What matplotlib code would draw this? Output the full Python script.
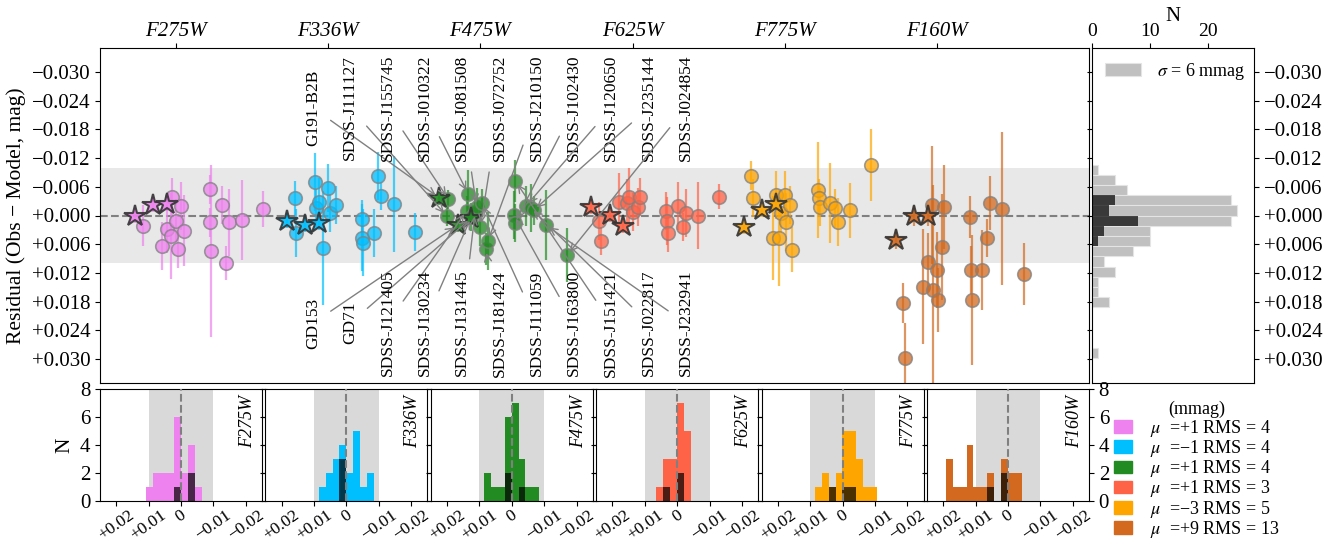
import numpy as np
import matplotlib.pyplot as plt
from matplotlib.patches import Patch
from matplotlib.ticker import FuncFormatter

plt.rcParams['font.family'] = ['Liberation Serif', 'DejaVu Serif']
plt.rcParams['mathtext.fontset'] = 'stix'

nan = np.nan

# filters, colours and summary numbers (mmag) quoted in the legend
filters = ['F275W', 'F336W', 'F475W', 'F625W', 'F775W', 'F160W']
colors = ['violet', 'deepskyblue', 'forestgreen', 'tomato', 'orange', 'chocolate']
mu = [1, -1, 1, 1, -3, 9]
rms = [4, 4, 4, 3, 5, 13]
sigma_all = 6

# objects: name, star flag (CALSPEC primaries), x offset within each filter group
names = ['G191-B2B', 'GD153', 'GD71',
         'SDSS-J111127', 'SDSS-J155745', 'SDSS-J121405', 'SDSS-J010322',
         'SDSS-J130234', 'SDSS-J131445', 'SDSS-J081508', 'SDSS-J072752',
         'SDSS-J111059', 'SDSS-J181424', 'SDSS-J210150', 'SDSS-J163800',
         'SDSS-J102430', 'SDSS-J151421', 'SDSS-J120650', 'SDSS-J022817',
         'SDSS-J235144', 'SDSS-J232941', 'SDSS-J024854']
is_star = [True, True, True] + [False] * 19
offsets = [-0.27, -0.15, -0.06, -0.22, -0.21, -0.09, -0.08, -0.06, -0.035, -0.025,
           0.0, 0.01, 0.035, 0.05, 0.22, 0.225, 0.23, 0.30, 0.33, 0.35, 0.43, 0.57]

# residuals (Obs - Model) in mmag, one entry per object
res_f275w = [0.1, -2.2, -2.4, 2.1, nan, 6.4, nan, 2.8, 4.3, -3.9, 1.1,
             7.0, -2.0, 3.2, -5.5, 1.4, 7.4, -2.2, 9.9, 1.4, 0.9, -1.4]
res_f336w = [1.1, 2.0, 1.6, -3.7, 3.7, -7.0, -1.6, -2.8, 6.8, nan, -5.7,
             -0.5, nan, -2.2, 0.7, 4.7, 5.7, 3.7, -8.3, -4.1, -2.4, 3.4]
res_f475w = [-3.7, 2.0, 0.5, 0.1, -3.4, -1.0, -4.5, 0.3, -0.7, -1.8, 2.4,
             -2.6, 7.0, 5.3, -0.1, 1.6, -7.2, -2.0, -1.6, -1.1, 2.0, 8.3]
res_f625w = [-1.8, -0.1, 2.2, 1.1, 5.3, -2.8, nan, nan, -2.6, -3.9, -0.7,
             nan, -1.8, -3.9, -0.9, 1.1, 3.7, -2.0, 2.4, -0.5, 0.1, -3.9]
res_f775w = [2.4, -1.1, -2.4, -8.3, -3.7, nan, 4.7, -4.3, 4.7, -0.5, -4.3,
             1.4, -2.2, 7.2, -5.3, -3.7, -1.8, -2.6, -1.6, 1.4, -1.1, -10.6]
res_f160w = [5.1, 0.1, 0.1, 18.3, 29.8, 14.9, nan, 9.7, -2.2, 15.6, 11.4,
             17.7, 6.6, -1.8, 0.3, 11.4, 17.7, 11.4, 4.7, -2.6, -1.4, 12.2]

# uncertainties in mmag
err_f275w = [1.5, 1.5, 1.5, 4.3, nan, 5.0, nan, 5.0, 9.0, 4.0, 4.5,
             4.0, 5.0, 7.4, 3.0, 3.0, 18.0, 4.0, 3.5, 7.0, 8.4, 3.7]
err_f336w = [1.5, 1.5, 1.5, 3.5, 5.0, 6.0, 4.0, 5.0, 12.0, nan, 5.0,
             4.0, nan, 4.0, 4.0, 7.0, 7.0, 5.0, 5.0, 3.0, 10.0, 4.0]
err_f475w = [1.5, 1.5, 1.5, 2.0, 2.0, 3.0, 5.0, 3.0, 3.0, 4.0, 4.0,
             3.0, 3.4, 6.0, 5.0, 4.0, 4.3, 4.2, 5.0, 3.0, 7.3, 5.6]
err_f625w = [1.5, 1.5, 1.5, 4.0, 3.0, 6.0, nan, nan, 5.0, 6.0, 4.0,
             nan, 4.0, 4.0, 4.0, 5.0, 4.0, 5.0, 3.0, 5.0, 7.0, 2.6]
err_f775w = [1.5, 1.5, 1.5, 3.0, 4.0, nan, 8.7, 5.0, 10.0, 4.0, 5.0,
             6.0, 4.0, 4.7, 10.0, 4.0, 4.0, 8.4, 4.0, 5.0, 5.7, 7.5]
err_f160w = [2.0, 2.0, 2.0, 4.2, 7.3, 12.0, nan, 6.0, 12.4, 22.0, 8.0,
             6.7, 11.0, 8.8, 4.4, 5.0, 13.6, 8.4, 4.0, 5.6, 16.0, 6.5]

residuals = [res_f275w, res_f336w, res_f475w, res_f625w, res_f775w, res_f160w]
errors = [err_f275w, err_f336w, err_f475w, err_f625w, err_f775w, err_f160w]

top_labels = ['G191-B2B', 'SDSS-J111127', 'SDSS-J155745', 'SDSS-J010322',
              'SDSS-J081508', 'SDSS-J072752', 'SDSS-J210150', 'SDSS-J102430',
              'SDSS-J120650', 'SDSS-J235144', 'SDSS-J024854']
bottom_labels = ['GD153', 'GD71', 'SDSS-J121405', 'SDSS-J130234',
                 'SDSS-J131445', 'SDSS-J181424', 'SDSS-J111059', 'SDSS-J163800',
                 'SDSS-J151421', 'SDSS-J022817', 'SDSS-J232941']

W, H = 1338, 546


def box(l, t, r, b):
    return [l / W, 1 - b / H, (r - l) / W, (b - t) / H]


def signed(v, nd):
    s = f'{v:+.{nd}f}'
    return s.replace('-', '\u2212')


fig = plt.figure(figsize=(W / 100, H / 100), dpi=100)
ax = fig.add_axes(box(100, 48, 1089, 383))
axs = fig.add_axes(box(1092, 48, 1254, 383))
bax = [fig.add_axes(box(100 + i * 165.4, 389, 100 + i * 165.4 + 162, 501)) for i in range(6)]

star = np.array(is_star)
off = np.array(offsets)
all_vals, star_vals = [], []
for r in residuals:
    r = np.array(r) / 1000
    all_vals += list(r[~np.isnan(r)])
    star_vals += list(r[star & ~np.isnan(r)])
edges = np.histogram_bin_edges(all_vals, bins=19)

# ---- main residual panel
ax.axhspan(-0.01, 0.01, color='lightgray', alpha=0.5, lw=0, zorder=0)
ax.axhline(0, color='gray', ls='--', lw=1.5, zorder=1)
for i, (f, c) in enumerate(zip(filters, colors)):
    y = np.array(residuals[i]) / 1000
    e = np.array(errors[i]) / 1000
    x = i + off
    m = ~np.isnan(y)
    ax.errorbar(x[m], y[m], yerr=e[m], fmt='none', ecolor=c, elinewidth=1.6,
                alpha=0.7, zorder=2)
    mc = m & ~star
    ax.scatter(x[mc], y[mc], s=95, facecolor=c, edgecolor='gray', lw=1.2,
               alpha=0.75, zorder=3)
    ms = m & star
    ax.plot(x[ms], y[ms], '*', ms=16, mfc=c, mec='#333333', mew=1.5,
            ls='none', alpha=0.9, zorder=4)

# labels with arrows to the F475W points
for labels, ylab in [(top_labels, -0.0225), (bottom_labels, 0.0225)]:
    for k, name in enumerate(labels):
        j = names.index(name)
        ax.annotate(name, xy=(2 + offsets[j], res_f475w[j] / 1000),
                    xytext=(0.90 + 0.245 * k, ylab), rotation=90,
                    ha='center', va='center', fontsize=12.5,
                    arrowprops=dict(arrowstyle='->', color='gray', lw=1,
                                    shrinkA=6, shrinkB=3), zorder=5)

ax.set_xlim(-0.5, 6.0)
ax.set_ylim(0.035, -0.035)
ax.set_xticks(range(6))
ax.set_xticklabels(filters, fontstyle='italic', fontsize=15)
ax.tick_params(axis='x', bottom=False, top=True, labelbottom=False, labeltop=True,
               pad=1.5)
yt = np.round(np.arange(-0.030, 0.0301, 0.006), 3)
ax.set_yticks(yt)
ax.yaxis.set_major_formatter(FuncFormatter(lambda v, p: signed(v + 0.0, 3)))
ax.tick_params(axis='y', labelsize=15)
ax.set_ylabel('Residual (Obs \u2212 Model, mag)', fontsize=15.5)

# ---- side histogram of all residuals
axs.hist(all_vals, bins=edges, orientation='horizontal', color='silver',
         ec='#e4e4e4', lw=0.8, label=f'$\\sigma$ = {sigma_all} mmag')
axs.hist(star_vals, bins=edges, orientation='horizontal', color='k', alpha=0.7)
axs.set_ylim(0.035, -0.035)
axs.set_xlim(0, 28)
axs.set_yticks(yt)
axs.yaxis.set_major_formatter(FuncFormatter(lambda v, p: signed(v + 0.0, 3)))
axs.tick_params(axis='y', left=True, right=True, labelleft=False, labelright=True,
                labelsize=15)
axs.xaxis.tick_top()
axs.xaxis.set_label_position('top')
axs.set_xticks([0, 10, 20])
axs.tick_params(axis='x', labelsize=14, pad=2)
axs.set_xlabel('N', fontsize=15, labelpad=2)
axs.legend(loc='upper left', frameon=False, fontsize=13, borderaxespad=0.3,
           handletextpad=0.9, handlelength=2.0)

# ---- per-filter histograms
xt = [0.02, 0.01, 0.0, -0.01, -0.02]
xtl = ['+0.02', '+0.01', '0', '\u22120.01', '\u22120.02']
for i, (f, c) in enumerate(zip(filters, colors)):
    a = bax[i]
    r = np.array(residuals[i]) / 1000
    m = ~np.isnan(r)
    a.axvspan(-0.01, 0.01, color='lightgray', alpha=0.85, lw=0, zorder=0)
    a.hist(r[m], bins=edges, color=c, zorder=1)
    a.hist(r[m & star], bins=edges, color='k', alpha=0.7, zorder=2)
    a.axvline(0, color='gray', ls='--', lw=1.5, zorder=3)
    a.set_xlim(0.025, -0.025)
    a.set_ylim(0, 8)
    a.set_xticks(xt)
    a.set_xticklabels(xtl, rotation=35, fontsize=12.5)
    a.tick_params(axis='x', pad=1)
    a.set_yticks([0, 2, 4, 6, 8])
    a.tick_params(axis='y', left=True, right=True, labelleft=(i == 0),
                  labelright=(i == 5), labelsize=15)
    a.text(0.91, 0.95, f, transform=a.transAxes, rotation=90, ha='center',
           va='top', fontstyle='italic', fontsize=13)
bax[0].set_ylabel('N', fontsize=15.5)

handles = [Patch(color=c) for c in colors]
labels = [f'$\\mu$  ={signed(m, 0)} RMS = {s}' for m, s in zip(mu, rms)]
fig.legend(handles, labels, title='(mmag)', loc='upper left',
           bbox_to_anchor=(1114 / W, 1 - 401 / H), frameon=False, fontsize=13,
           title_fontsize=13, handlelength=1.0, handleheight=0.7,
           labelspacing=-0.04, handletextpad=1.0, borderaxespad=0, borderpad=0)

fig.savefig('out.png', dpi=100)
